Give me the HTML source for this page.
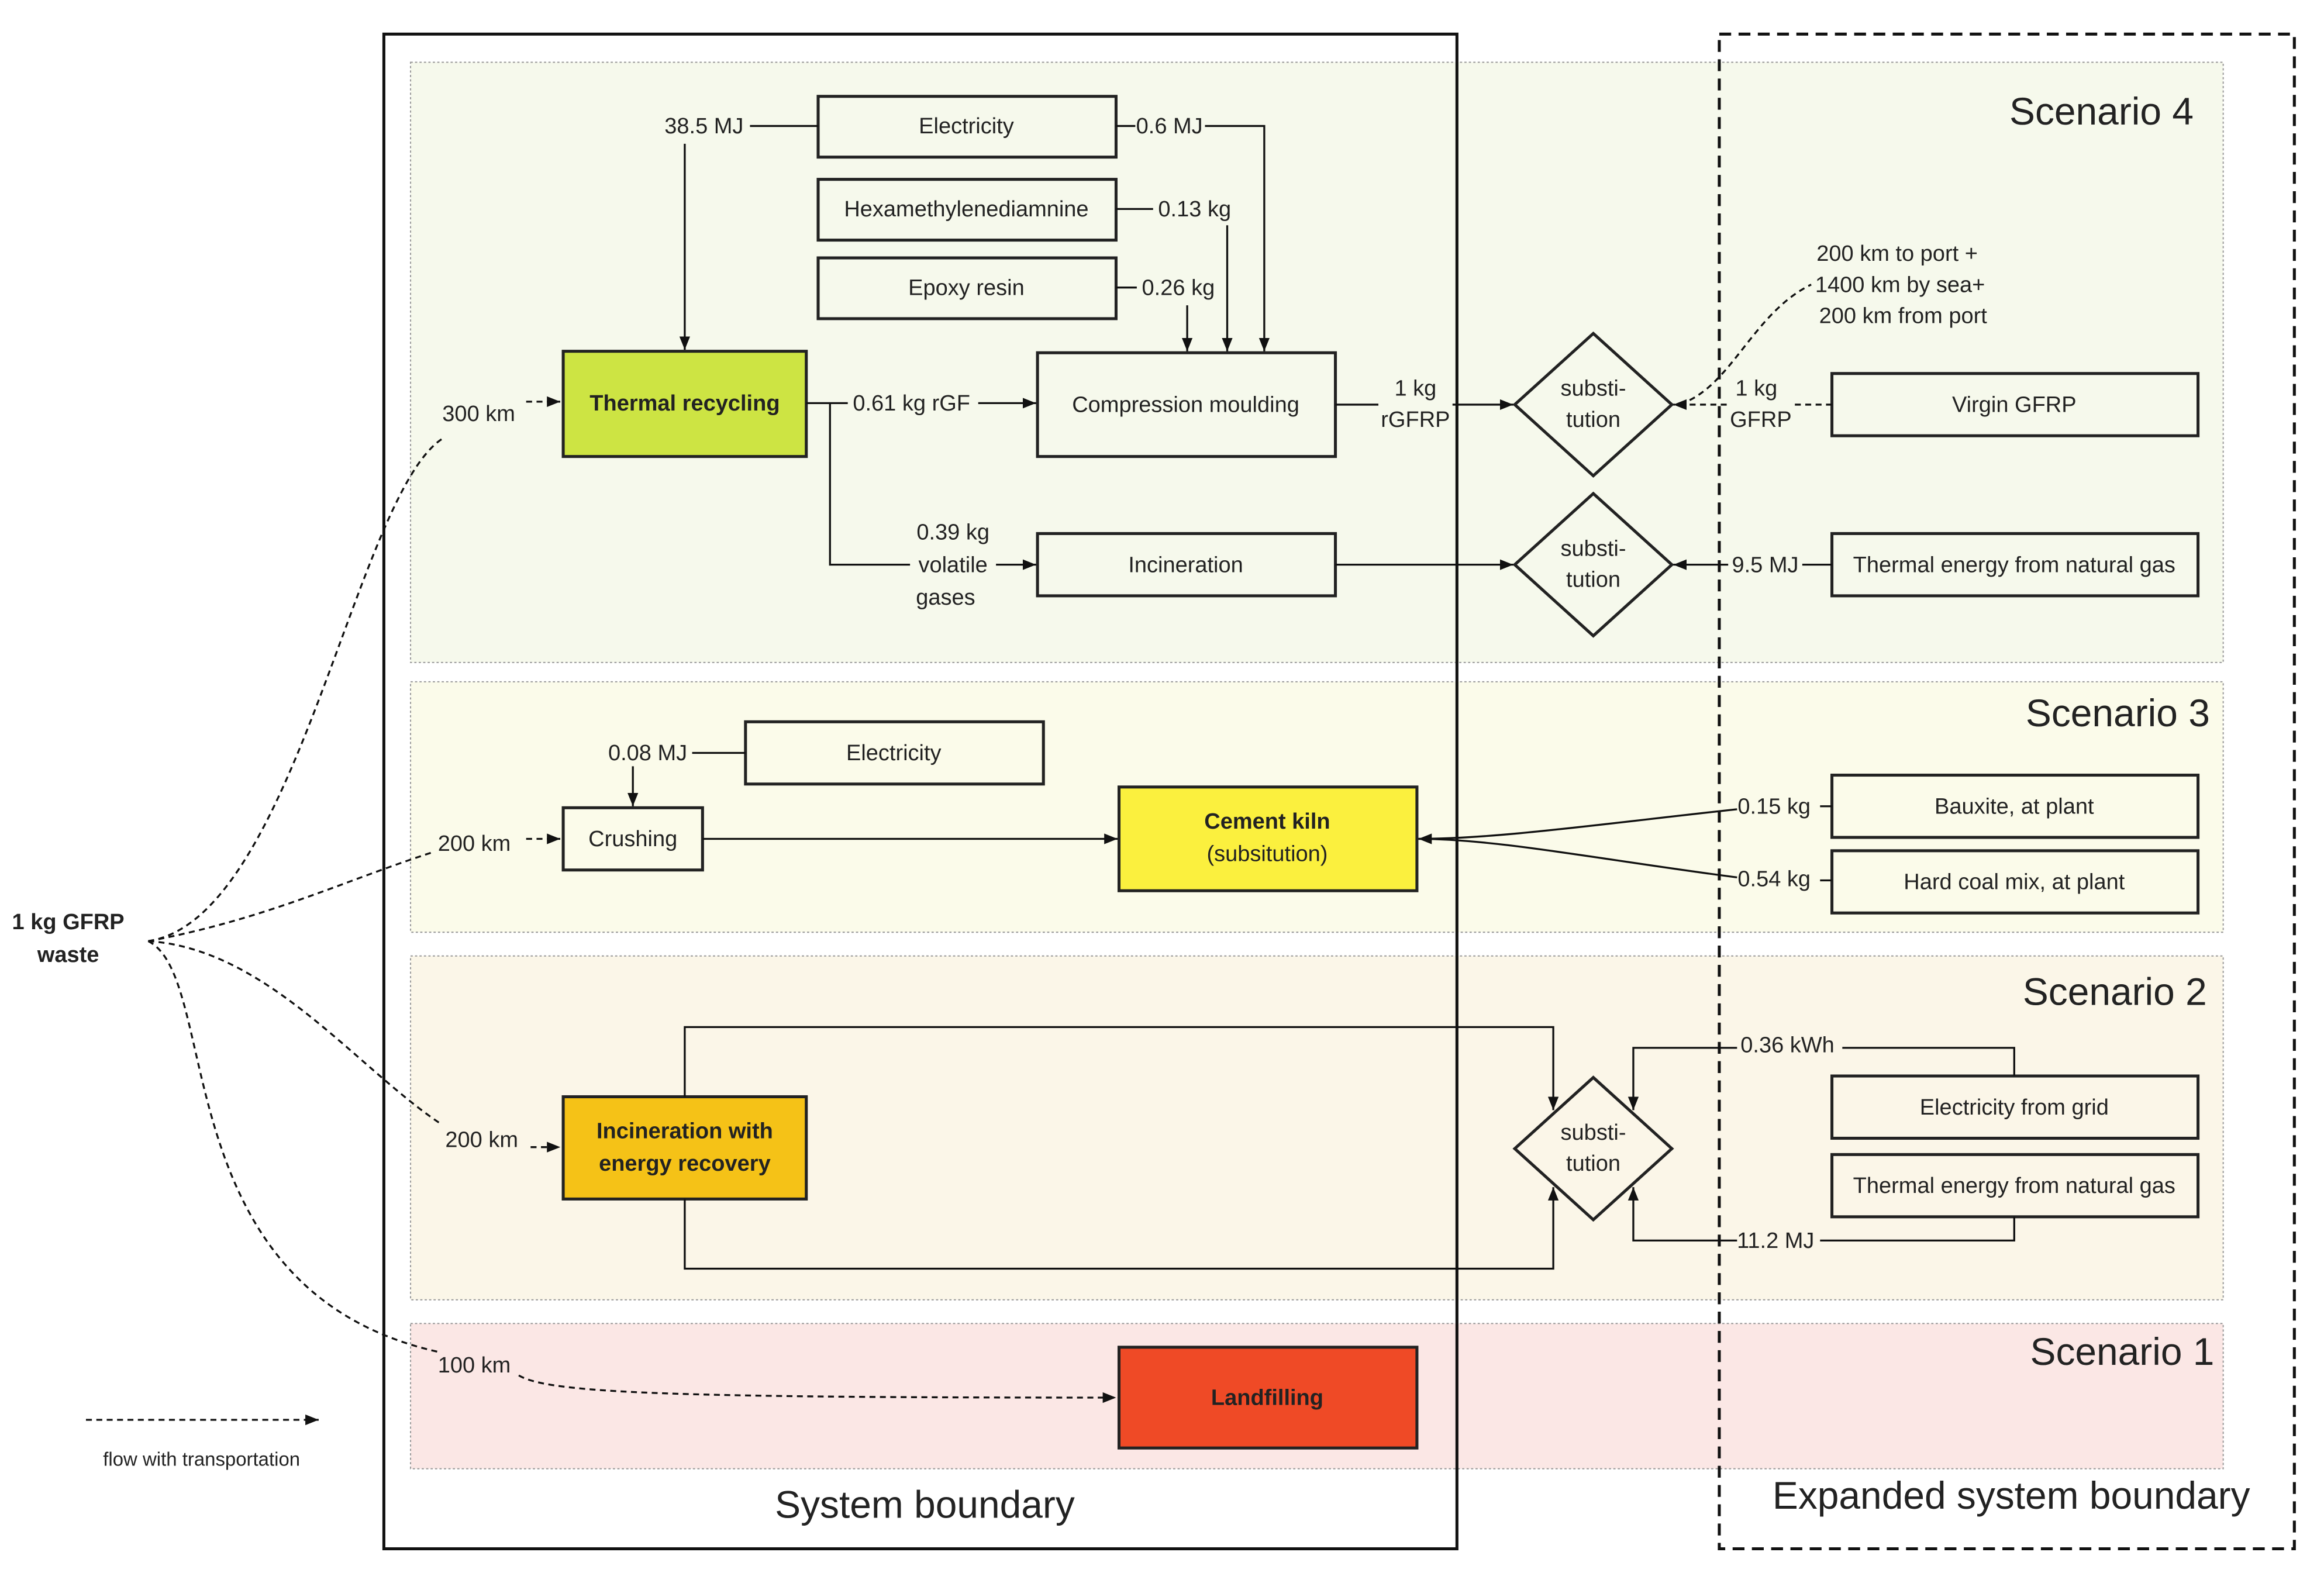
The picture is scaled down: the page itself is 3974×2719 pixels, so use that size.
<!DOCTYPE html>
<html><head><meta charset="utf-8"><style>
html,body{margin:0;padding:0;background:#fff;}
svg{display:block;}
text{font-family:"Liberation Sans",sans-serif;fill:#222;}
</style></head><body>
<svg width="3974" height="2719" viewBox="0 0 1568 1072.8" xmlns="http://www.w3.org/2000/svg">
<defs>
<marker id="a" viewBox="0 0 10 10" refX="10" refY="5" markerWidth="9" markerHeight="9" markerUnits="userSpaceOnUse" orient="auto"><path d="M0,1 L10,5 L0,9 z" fill="#111"/></marker>
</defs>
<rect width="1568" height="1073" fill="#fff"/>
<g stroke="#999" stroke-width="0.8" stroke-dasharray="1.5,1.5">
<rect x="277" y="42" width="1223" height="405" fill="#f6f9ec"/>
<rect x="277" y="460" width="1223" height="169" fill="#fbfbea"/>
<rect x="277" y="645" width="1223" height="232" fill="#fbf6e8"/>
<rect x="277" y="893" width="1223" height="98" fill="#fbe7e5"/>
</g>
<rect x="259" y="23" width="724" height="1022" fill="none" stroke="#111" stroke-width="2"/>
<rect x="1160" y="23" width="388" height="1022" fill="none" stroke="#111" stroke-width="2" stroke-dasharray="8,5"/>
<g font-size="26" text-anchor="end">
<text x="1480" y="84">Scenario 4</text>
<text x="1491" y="490">Scenario 3</text>
<text x="1489" y="678">Scenario 2</text>
<text x="1494" y="921">Scenario 1</text>
</g>
<text x="624" y="1024" font-size="26" text-anchor="middle">System boundary</text>
<text x="1357" y="1018" font-size="26" text-anchor="middle">Expanded system boundary</text>
<g stroke="#222" stroke-width="2" fill="none">
<rect x="552" y="65" width="201" height="41"/>
<rect x="552" y="121" width="201" height="41"/>
<rect x="552" y="174" width="201" height="41"/>
<rect x="380" y="237" width="164" height="71" fill="#cde443"/>
<rect x="700" y="238" width="201" height="70"/>
<rect x="700" y="360" width="201" height="42"/>
<polygon points="1075,225 1128,273 1075,321 1022,273"/>
<polygon points="1075,333 1128,381 1075,429 1022,381"/>
<rect x="1236" y="252" width="247" height="42"/>
<rect x="1236" y="360" width="247" height="42"/>
<rect x="503" y="487" width="201" height="42"/>
<rect x="380" y="545" width="94" height="42"/>
<rect x="755" y="531" width="201" height="70" fill="#fbf03e"/>
<rect x="1236" y="523" width="247" height="42"/>
<rect x="1236" y="574" width="247" height="42"/>
<rect x="380" y="740" width="164" height="69" fill="#f5c217"/>
<polygon points="1075,727 1128,775 1075,823 1022,775"/>
<rect x="1236" y="726" width="247" height="42"/>
<rect x="1236" y="779" width="247" height="42"/>
<rect x="755" y="909" width="201" height="68" fill="#ef4a26"/>
</g>
<g font-size="15" text-anchor="middle">
<text x="652" y="90">Electricity</text>
<text x="652" y="146">Hexamethylenediamnine</text>
<text x="652" y="199">Epoxy resin</text>
<text x="462" y="277" font-weight="bold">Thermal recycling</text>
<text x="800" y="278">Compression moulding</text>
<text x="800" y="386">Incineration</text>
<text x="1075" y="267">substi-</text><text x="1075" y="288">tution</text>
<text x="1075" y="375">substi-</text><text x="1075" y="396">tution</text>
<text x="1359" y="278">Virgin GFRP</text>
<text x="1359" y="386">Thermal energy from natural gas</text>
<text x="603" y="513">Electricity</text>
<text x="427" y="571">Crushing</text>
<text x="855" y="559" font-weight="bold">Cement kiln</text>
<text x="855" y="581">(subsitution)</text>
<text x="1359" y="549">Bauxite, at plant</text>
<text x="1359" y="600">Hard coal mix, at plant</text>
<text x="462" y="768" font-weight="bold">Incineration with</text>
<text x="462" y="790" font-weight="bold">energy recovery</text>
<text x="1075" y="769">substi-</text><text x="1075" y="790">tution</text>
<text x="1359" y="752">Electricity from grid</text>
<text x="1359" y="805">Thermal energy from natural gas</text>
<text x="855" y="948" font-weight="bold">Landfilling</text>
<text x="46" y="627" font-weight="bold">1 kg GFRP</text>
<text x="46" y="649" font-weight="bold">waste</text>
<text x="136" y="989" font-size="13">flow with transportation</text>
</g>
<g font-size="15" text-anchor="middle">
<text x="475" y="90">38.5 MJ</text>
<text x="789" y="90">0.6 MJ</text>
<text x="806" y="146">0.13 kg</text>
<text x="795" y="199">0.26 kg</text>
<text x="615" y="277">0.61 kg rGF</text>
<text x="643" y="364">0.39 kg</text><text x="643" y="386">volatile</text><text x="638" y="408">gases</text>
<text x="955" y="267">1 kg</text><text x="955" y="288">rGFRP</text>
<text x="1185" y="267">1 kg</text><text x="1188" y="288">GFRP</text>
<text x="1280" y="176">200 km to port +</text>
<text x="1282" y="197">1400 km by sea+</text>
<text x="1284" y="218">200 km from port</text>
<text x="1191" y="386">9.5 MJ</text>
<text x="437" y="513">0.08 MJ</text>
<text x="1197" y="549">0.15 kg</text>
<text x="1197" y="598">0.54 kg</text>
<text x="1206" y="710">0.36 kWh</text>
<text x="1198" y="842">11.2 MJ</text>
<text x="323" y="284">300 km</text>
<text x="320" y="574">200 km</text>
<text x="325" y="774">200 km</text>
<text x="320" y="926">100 km</text>
</g>
<g stroke="#111" stroke-width="1.3" fill="none">
<line x1="506" y1="85" x2="552" y2="85"/>
<line x1="462" y1="97" x2="462" y2="236" marker-end="url(#a)"/>
<polyline points="813,85 853,85 853,237" marker-end="url(#a)"/>
<line x1="753" y1="85" x2="766" y2="85"/>
<line x1="753" y1="141" x2="778" y2="141"/>
<line x1="828" y1="152" x2="828" y2="237" marker-end="url(#a)"/>
<line x1="753" y1="194" x2="767" y2="194"/>
<line x1="801" y1="206" x2="801" y2="237" marker-end="url(#a)"/>
<line x1="544" y1="272" x2="572" y2="272"/>
<line x1="660" y1="272" x2="699" y2="272" marker-end="url(#a)"/>
<polyline points="560,272 560,381 614,381"/>
<line x1="672" y1="381" x2="699" y2="381" marker-end="url(#a)"/>
<line x1="901" y1="273" x2="930" y2="273"/>
<line x1="980" y1="273" x2="1021" y2="273" marker-end="url(#a)"/>
<line x1="901" y1="381" x2="1021" y2="381" marker-end="url(#a)"/>
<line x1="1236" y1="381" x2="1216" y2="381"/>
<line x1="1166" y1="381" x2="1129" y2="381" marker-end="url(#a)"/>
<line x1="503" y1="508" x2="467" y2="508"/>
<line x1="427" y1="517" x2="427" y2="544" marker-end="url(#a)"/>
<line x1="474" y1="566" x2="754" y2="566" marker-end="url(#a)"/>
<line x1="1236" y1="544" x2="1228" y2="544"/>
<line x1="1236" y1="594" x2="1228" y2="594"/>
<path d="M1172,546 C1080,556 1010,566 957,566" marker-end="url(#a)"/>
<path d="M1172,592 C1080,580 1010,566 957,566"/>
<polyline points="462,740 462,693 1048,693 1048,749" marker-end="url(#a)"/>
<polyline points="462,809 462,856 1048,856 1048,801" marker-end="url(#a)"/>
<polyline points="1359,726 1359,707 1243,707"/>
<polyline points="1172,707 1102,707 1102,749" marker-end="url(#a)"/>
<polyline points="1359,821 1359,837 1228,837"/>
<polyline points="1172,837 1102,837 1102,801" marker-end="url(#a)"/>
</g>
<g stroke="#111" stroke-width="1.3" fill="none" stroke-dasharray="4,3">
<line x1="1236" y1="273" x2="1210" y2="273"/>
<line x1="1165" y1="273" x2="1129" y2="273" marker-end="url(#a)"/>
<path d="M1140,270 C1170,255 1185,210 1222,192"/>
<path d="M100,635 C200,620 240,330 300,295"/>
<line x1="355" y1="271" x2="378" y2="271" marker-end="url(#a)"/>
<path d="M100,635 C180,620 230,595 292,575"/>
<line x1="355" y1="566" x2="378" y2="566" marker-end="url(#a)"/>
<path d="M100,635 C180,640 240,720 297,758"/>
<line x1="358" y1="774" x2="378" y2="774" marker-end="url(#a)"/>
<path d="M100,635 C150,660 110,870 295,912"/>
<path d="M350,928 C370,940 450,943 753,943" marker-end="url(#a)"/>
<line x1="58" y1="958" x2="215" y2="958" marker-end="url(#a)"/>
</g>
</svg>
</body></html>
